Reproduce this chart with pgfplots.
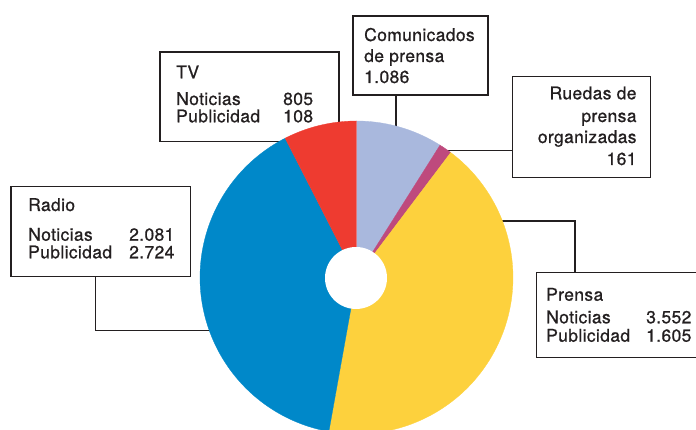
\documentclass[border=0pt]{standalone}
\usepackage{pgfplots}
\pgfplotsset{compat=1.18}
\usepackage{pgfplotstable}
\usepackage{fontspec}
\setmainfont{TeX Gyre Heros}[LetterSpace=2, FakeBold=0.8]
\definecolor{lav}{HTML}{A9B8DD}
\definecolor{mag}{HTML}{BE4A7D}
\definecolor{yel}{HTML}{FDD13D}
\definecolor{blu}{HTML}{0088C9}
\definecolor{rd}{HTML}{EE3B30}
\definecolor{ln}{HTML}{231F20}

% slices clockwise from 12 o'clock
\pgfplotstableread{
slice noticias publicidad
Comunicados 1086 0
Ruedas 161 0
Prensa 3552 1605
Radio 2081 2724
TV 805 108
}\piedata

\newcommand\getv[2]{%
  \pgfplotstablegetelem{#1}{noticias}\of\piedata\let\tmpa\pgfplotsretval
  \pgfplotstablegetelem{#1}{publicidad}\of\piedata
  \pgfmathsetmacro#2{\tmpa+\pgfplotsretval}}
\getv{0}\vA
\getv{1}\vB
\getv{2}\vC
\getv{3}\vD
\getv{4}\vE
\pgfmathsetmacro\T{\vA+\vB+\vC+\vD+\vE}
\pgfmathsetmacro\tA{90}
\pgfmathsetmacro\tB{\tA-360*(\vA/\T)}
\pgfmathsetmacro\tC{\tB-360*(\vB/\T)}
\pgfmathsetmacro\tD{\tC-360*(\vC/\T)}
\pgfmathsetmacro\tE{\tD-360*(\vD/\T)}
\pgfmathsetmacro\tF{\tE-360*(\vE/\T)}

\def\cx{356.5}
\def\cy{152.5}
\def\R{156.5}

\tikzset{lbl/.style={font=\fontsize{17.5}{21}\selectfont, inner sep=0pt, text=ln},
  box/.style={draw=ln, line width=1.5pt}}

\begin{document}
\begin{tikzpicture}
\begin{axis}[width=696pt, height=430pt, scale only axis,
  xmin=0, xmax=696, ymin=0, ymax=430, hide axis, clip=true]
% boxes and leader lines
\draw[box] (axis cs:160,288.5) rectangle (axis cs:339,378);
\draw[box] (axis cs:353,414) rectangle (axis cs:488,335);
\draw[box] (axis cs:396,335) -- (axis cs:396,290);
\draw[box] (axis cs:512.7,353.3) rectangle (axis cs:650.7,252.7);
\draw[box] (axis cs:430,279.5) -- (axis cs:512.7,279.5);
\draw[box] (axis cs:11,243.3) rectangle (axis cs:190.7,153.3);
\draw[box] (axis cs:95.7,153.3) -- (axis cs:95.7,99.3) -- (axis cs:240,99.3);
\draw[box] (axis cs:696,157.3) -- (axis cs:536.7,157.3) -- (axis cs:536.7,72.7) -- (axis cs:696,72.7);
\draw[box] (axis cs:575,157.3) -- (axis cs:575,209) -- (axis cs:470,209);
% pie
\addplot[fill=lav, draw=lav, line width=0.3pt, domain=\tB:\tA, samples=40, variable=\t]
  ({\cx+\R*cos(\t)},{\cy+\R*sin(\t)}) -- (axis cs:\cx,\cy) -- cycle;
\addplot[fill=mag, draw=mag, line width=0.3pt, domain=\tC:\tB, samples=10, variable=\t]
  ({\cx+\R*cos(\t)},{\cy+\R*sin(\t)}) -- (axis cs:\cx,\cy) -- cycle;
\addplot[fill=yel, draw=yel, line width=0.3pt, domain=\tD:\tC, samples=120, variable=\t]
  ({\cx+\R*cos(\t)},{\cy+\R*sin(\t)}) -- (axis cs:\cx,\cy) -- cycle;
\addplot[fill=blu, draw=blu, line width=0.3pt, domain=\tE:\tD, samples=120, variable=\t]
  ({\cx+\R*cos(\t)},{\cy+\R*sin(\t)}) -- (axis cs:\cx,\cy) -- cycle;
\addplot[fill=rd, draw=rd, line width=0.3pt, domain=\tF:\tE, samples=30, variable=\t]
  ({\cx+\R*cos(\t)},{\cy+\R*sin(\t)}) -- (axis cs:\cx,\cy) -- cycle;
\addplot[fill=white, draw=none, domain=0:360, samples=80, variable=\t]
  ({356+31*cos(\t)},{152+31*sin(\t)}) -- cycle;
% texts
\node[lbl, anchor=base west] at (axis cs:176,351.7) {TV};
\node[lbl, anchor=base west] at (axis cs:176,325) {Noticias};
\node[lbl, anchor=base west] at (axis cs:176,307.7) {Publicidad};
\node[lbl, anchor=base west] at (axis cs:283,325) {805};
\node[lbl, anchor=base west] at (axis cs:283,307.7) {108};

\node[lbl, anchor=base west] at (axis cs:364,389) {Comunicados};
\node[lbl, anchor=base west] at (axis cs:364,368) {de prensa};
\node[lbl, anchor=base west] at (axis cs:364,347) {1.086};

\node[lbl, anchor=base east] at (axis cs:636.7,330.7) {Ruedas de};
\node[lbl, anchor=base east] at (axis cs:636.7,308) {prensa};
\node[lbl, anchor=base east] at (axis cs:636.7,287) {organizadas};
\node[lbl, anchor=base east] at (axis cs:636.7,265) {161};

\node[lbl, anchor=base west] at (axis cs:28,219) {Radio};
\node[lbl, anchor=base west] at (axis cs:28,189.3) {Noticias};
\node[lbl, anchor=base west] at (axis cs:28,171.7) {Publicidad};
\node[lbl, anchor=base west] at (axis cs:129,189.3) {2.081};
\node[lbl, anchor=base west] at (axis cs:129,171.7) {2.724};

\node[lbl, anchor=base west] at (axis cs:546,129.3) {Prensa};
\node[lbl, anchor=base west] at (axis cs:546,106.7) {Noticias};
\node[lbl, anchor=base west] at (axis cs:546,88.3) {Publicidad};
\node[lbl, anchor=base west] at (axis cs:646,106.7) {3.552};
\node[lbl, anchor=base west] at (axis cs:646,88.3) {1.605};
\end{axis}
\pgfresetboundingbox
\path (current axis.south west) rectangle (current axis.north east);
\end{tikzpicture}
\end{document}
